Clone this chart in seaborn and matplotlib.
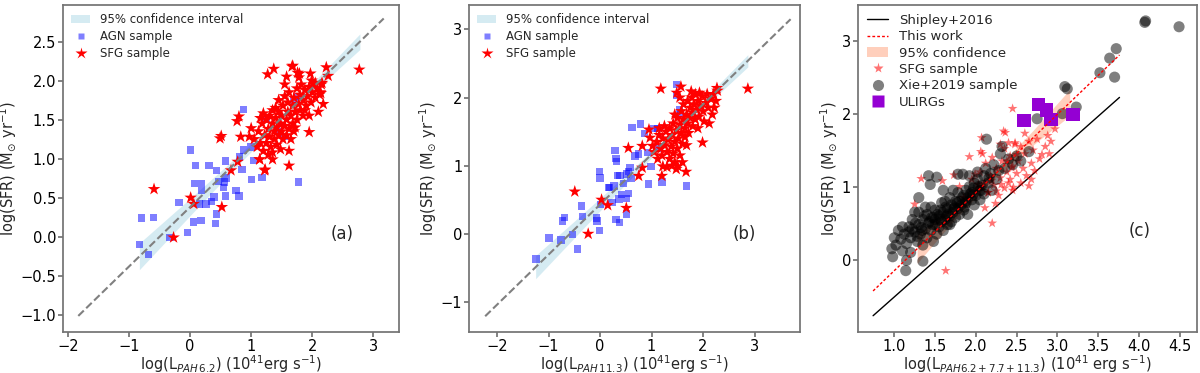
import numpy as np
import pandas as pd
import matplotlib
matplotlib.use("Agg")
import matplotlib.pyplot as plt
import seaborn as sns
from matplotlib.lines import Line2D
from matplotlib.patches import Patch

# ---------------- Panel (a) data ----------------
agn_a_x = [-0.83, -0.79, -0.60, -0.68, -0.33, -0.18, -0.04, 0.01, 0.09, 0.07, 0.19, 0.19, 0.31,
           0.15, 0.26, 0.06, 0.18, 0.35, 0.39, 0.43, 0.47, 0.43, 0.42, 0.58, 0.59, 0.56, 0.55,
           0.58, 0.75, 0.80, 0.81, 0.85, 0.87, 0.87, 1.00, 1.04, 1.01, 1.18, 1.78,
           1.25, 1.45, 1.55, 1.70, 1.75]
agn_a_y = [-0.10, 0.24, 0.25, -0.23, -0.01, 0.44, 0.05, 1.11, 0.91, 0.68, 0.68, 0.59, 0.91,
           0.42, 0.42, 0.19, 0.21, 0.45, 0.51, 0.85, 0.71, 0.29, 0.17, 0.97, 0.75, 0.70, 0.63,
           0.52, 0.59, 0.52, 1.02, 0.86, 1.11, 1.63, 1.15, 0.98, 0.73, 0.76, 0.70,
           1.50, 1.35, 1.28, 1.75, 1.80]
sfg_a_x = [-0.59, -0.27, 0.01, 0.06, 0.52, 0.49, 0.51, 0.67, 0.78, 0.77, 0.80, 0.83, 0.97, 1.00,
           1.14, 1.22, 1.35, 1.62, 1.27, 1.37, 1.67, 1.79, 1.97, 2.23, 2.26, 2.77, 1.95, 2.14,
           2.05, 1.99, 1.68, 1.76, 1.78, 2.13, 2.16, 1.23, 1.14,
           1.05, 1.10, 1.12, 1.15, 1.18, 1.20, 1.22, 1.25, 1.25, 1.28, 1.30, 1.30, 1.32, 1.35,
           1.35, 1.38, 1.38, 1.40, 1.42, 1.42, 1.45, 1.45, 1.48, 1.48, 1.50, 1.50, 1.52, 1.52,
           1.55, 1.55, 1.58, 1.58, 1.60, 1.60, 1.62, 1.62, 1.65, 1.65, 1.68, 1.68, 1.70, 1.70,
           1.72, 1.75, 1.75, 1.78, 1.80, 1.80, 1.82, 1.85, 1.85, 1.88, 1.90, 1.92, 1.95, 1.98,
           2.00, 2.02, 2.05, 2.08, 2.12, 2.15, 2.18, 1.55, 1.58, 1.45, 1.40, 1.35, 1.28, 1.20,
           1.15, 1.62, 1.72, 1.88, 1.95, 2.10]
sfg_a_y = [0.61, -0.01, 0.50, 0.42, 0.38, 1.26, 1.29, 0.85, 0.96, 1.48, 1.54, 1.28, 1.28, 1.39,
           0.99, 0.85, 0.99, 0.91, 2.08, 2.15, 2.18, 2.09, 2.09, 2.17, 2.06, 2.14, 1.34, 1.84,
           1.97, 2.00, 2.19, 2.10, 2.04, 1.85, 1.97, 0.86, 0.99,
           1.25, 1.15, 1.35, 1.20, 1.45, 1.10, 1.30, 1.50, 1.20, 1.38, 1.55, 1.28, 1.15, 1.45,
           1.62, 1.35, 1.25, 1.52, 1.40, 1.18, 1.30, 1.60, 1.45, 1.12, 1.35, 1.55, 1.25, 1.68,
           1.42, 1.80, 1.50, 1.30, 1.72, 1.60, 1.38, 1.85, 1.55, 1.25, 1.68, 1.45, 1.78, 1.35,
           1.60, 1.90, 1.50, 1.70, 1.82, 1.62, 1.95, 1.75, 1.55, 1.88, 1.68, 1.80, 1.92, 1.72,
           1.85, 1.95, 1.78, 1.90, 1.82, 1.95, 1.70, 1.95, 2.05, 1.75, 1.65, 1.08, 1.05, 1.58,
           1.52, 1.10, 1.40, 1.62, 1.55, 1.60]
fit_a_x = [-1.83, 3.17]
fit_a_slope, fit_a_icpt = 0.762, 0.38
ci_a_x = [-0.83, 0.0, 0.8, 1.4, 2.0, 2.78]
ci_a_half = [0.17, 0.11, 0.06, 0.04, 0.06, 0.10]

# ---------------- Panel (b) data ----------------
agn_b_x = [-1.24, -0.99, -0.76, -0.73, -0.69, -0.53, -0.44, -0.36, -0.34, -0.07, -0.06, -0.01,
           -0.01, 0.00, 0.01, 0.17, 0.19, 0.23, 0.27, 0.29, 0.31, 0.32, 0.34, 0.39, 0.31, 0.38,
           0.42, 0.37, 0.45, 0.51, 0.55, 0.51, 0.52, 0.55, 0.58, 0.60, 0.62, 0.68, 0.75, 0.79,
           0.86, 0.92, 0.94, 0.99, 1.20, 1.05, 1.49, 1.48, 1.56, 1.68, 1.54, 1.14, 1.12]
agn_b_y = [-0.37, -0.06, -0.09, 0.19, 0.24, -0.01, -0.22, 0.41, 0.25, 0.23, 0.19, 0.05, 0.91,
           0.82, 0.43, 0.68, 0.68, 0.46, 0.70, 1.22, 1.11, 1.06, 0.86, 0.86, 0.21, 0.17, 0.58,
           0.51, 0.74, 0.88, 0.91, 0.52, 0.29, 0.59, 0.97, 0.81, 1.56, 1.14, 1.17, 1.61, 1.47,
           1.19, 0.73, 0.99, 0.76, 1.55, 2.19, 2.03, 1.75, 0.70, 1.82, 1.26, 1.55]
sfg_b_x = [-0.49, -0.23, 0.03, 0.15, 0.51, 0.55, 0.75, 0.82, 0.82, 0.95, 0.97, 1.02, 1.18, 1.20,
           1.22, 1.51, 1.67, 1.49, 1.57, 1.77, 1.93, 1.99, 2.22, 2.27, 2.87,
           1.05, 1.10, 1.12, 1.15, 1.18, 1.20, 1.22, 1.25, 1.28, 1.30, 1.32, 1.35, 1.35, 1.38,
           1.40, 1.42, 1.42, 1.45, 1.45, 1.48, 1.50, 1.50, 1.52, 1.55, 1.55, 1.58, 1.58, 1.60,
           1.62, 1.62, 1.65, 1.65, 1.68, 1.70, 1.70, 1.72, 1.75, 1.75, 1.78, 1.80, 1.80, 1.82,
           1.85, 1.85, 1.88, 1.90, 1.92, 1.95, 1.98, 2.00, 2.02, 2.05, 2.08, 2.10, 2.15, 2.18,
           2.20, 2.25, 2.28, 1.40, 1.30, 1.48, 1.60, 1.55, 1.45, 1.68, 1.90, 2.12, 1.25, 1.15]
sfg_b_y = [0.62, 0.00, 0.50, 0.42, 0.38, 1.26, 0.85, 0.97, 1.29, 1.53, 1.41, 1.29, 2.13, 0.85,
           0.99, 0.99, 0.91, 2.07, 2.16, 2.09, 2.07, 1.34, 1.85, 2.14, 2.13,
           1.20, 1.35, 1.10, 1.45, 1.25, 1.15, 1.40, 1.30, 1.50, 1.20, 1.38, 1.55, 1.10, 1.28,
           1.45, 1.62, 1.18, 1.35, 1.05, 1.52, 1.25, 1.70, 1.40, 1.60, 1.15, 1.48, 1.80, 1.32,
           1.68, 1.90, 1.55, 1.42, 1.75, 1.62, 1.95, 1.48, 1.85, 1.70, 2.00, 1.58, 1.78, 1.90,
           1.68, 2.05, 1.82, 1.95, 1.72, 1.88, 2.02, 1.80, 1.65, 1.92, 2.05, 1.85, 1.98, 1.75,
           2.05, 1.95, 2.10, 1.00, 0.98, 0.95, 1.05, 2.00, 1.75, 1.30, 1.55, 1.62, 1.58, 1.55]
fit_b_x = [-2.23, 3.70]
fit_b_slope, fit_b_icpt = 0.735, 0.43
ci_b_x = [-1.25, -0.3, 0.6, 1.3, 2.0, 2.87]
ci_b_half = [0.17, 0.11, 0.06, 0.04, 0.06, 0.09]

# ---------------- Panel (c) data ----------------
xie_x = [1.00, 1.02, 1.05, 1.08, 1.10, 1.12, 1.15, 1.18, 1.20, 1.20, 1.22, 1.25,
         1.28, 1.30, 1.30, 1.32, 1.35, 1.35, 1.38, 1.40, 1.40, 1.42, 1.45, 1.45, 1.48, 1.48,
         1.50, 1.50, 1.52, 1.55, 1.55, 1.58, 1.58, 1.60, 1.60, 1.62, 1.65, 1.65, 1.68, 1.68,
         1.70, 1.70, 1.72, 1.75, 1.75, 1.78, 1.78, 1.80, 1.80, 1.82, 1.85, 1.85, 1.88, 1.88,
         1.90, 1.90, 1.92, 1.95, 1.95, 1.98, 1.98, 2.00, 2.02, 2.05, 2.05, 2.08, 2.10, 2.10,
         2.12, 2.15, 2.18, 2.20, 2.22, 2.25, 2.28, 2.30, 2.32, 2.35, 2.40, 2.45, 2.50, 2.55,
         2.65, 2.75, 0.97, 0.98, 1.14, 1.35, 1.15, 1.42, 1.52, 1.44, 1.78, 1.84, 2.13, 1.60,
         1.30, 1.25, 1.10, 1.38, 1.62, 1.72, 1.92, 2.02, 1.50, 1.68,
         1.18, 1.22, 1.26, 1.33, 1.37, 1.43, 1.46, 1.53, 1.57, 1.63, 1.66, 1.73, 1.77, 1.83,
         1.87, 1.93, 1.97, 2.03, 2.07, 1.28, 1.34, 1.47, 1.56, 1.64, 1.74, 1.86, 1.96, 2.16,
         3.06, 3.09, 3.12, 3.23, 3.52, 3.64, 3.70, 3.72, 4.07, 4.08, 4.49]
xie_y = [0.30, 0.20, 0.40, 0.28, 0.12, 0.35, 0.22, 0.45, 0.30, 0.10, 0.55, 0.38,
         0.25, 0.48, 0.65, 0.35, 0.55, 0.20, 0.42, 0.62, 0.30, 0.50, 0.72, 0.40, 0.58, 0.25,
         0.48, 0.68, 0.35, 0.60, 0.45, 0.78, 0.52, 0.40, 0.65, 0.55, 0.70, 0.48, 0.85, 0.60,
         0.52, 0.75, 0.65, 0.80, 0.58, 0.70, 0.92, 0.62, 0.80, 0.75, 0.88, 0.68, 0.95, 0.78,
         0.85, 0.62, 1.00, 0.82, 0.92, 1.05, 0.75, 0.88, 1.10, 0.95, 0.82, 1.02, 1.15, 0.90,
         1.25, 1.05, 1.18, 0.95, 1.30, 1.10, 1.22, 1.45, 1.55, 1.25, 1.38, 1.30, 1.42, 1.35,
         1.48, 1.93, 0.15, 0.04, -0.15, -0.02, -0.01, 1.15, 1.13, 1.03, 1.17, 1.17, 1.65, 0.95,
         0.85, 0.65, 0.45, 0.72, 0.80, 0.95, 1.15, 1.20, 0.55, 0.48,
         0.38, 0.42, 0.50, 0.44, 0.60, 0.52, 0.58, 0.62, 0.68, 0.72, 0.62, 0.70, 0.78, 0.85,
         0.80, 0.90, 0.98, 1.00, 0.95, 0.32, 0.40, 0.48, 0.55, 0.60, 0.72, 0.72, 0.88, 1.12,
         2.00, 2.37, 2.34, 2.09, 2.56, 2.76, 2.50, 2.89, 3.25, 3.27, 3.19]
sfg_c_x = [1.25, 1.33, 1.59, 1.63, 1.73, 1.92, 2.06, 2.07, 2.08, 2.20, 2.45, 2.34, 2.60, 2.65,
           2.68, 2.97, 2.92, 2.81, 2.11, 2.24, 2.36, 2.48, 1.99, 2.03, 2.07, 2.15, 2.19, 2.25,
           2.31, 2.42, 2.46, 2.38, 2.44, 2.50,
           2.05, 2.10, 2.12, 2.15, 2.18, 2.20, 2.22, 2.25, 2.28, 2.30, 2.32, 2.35, 2.35, 2.38,
           2.40, 2.42, 2.45, 2.45, 2.48, 2.50, 2.52, 2.55, 2.55, 2.58, 2.60, 2.62, 2.65, 2.68,
           2.70, 2.72, 2.75, 2.78, 2.85, 2.90, 2.88, 2.40, 2.30, 2.00, 1.95, 1.85, 1.80]
sfg_c_y = [0.76, 1.11, 1.08, -0.15, 1.16, 1.41, 1.48, 1.67, 1.45, 0.50, 2.07, 1.76, 1.73, 1.01,
           1.10, 1.79, 1.62, 1.44, 0.71, 0.77, 1.74, 1.60, 1.17, 1.03, 0.99, 0.92, 1.08, 0.94,
           1.03, 1.10, 0.99, 1.35, 1.26, 1.44,
           1.20, 1.05, 1.32, 0.92, 1.15, 1.40, 1.02, 1.25, 0.88, 1.12, 1.35, 0.98, 1.52, 1.20,
           1.05, 1.42, 1.28, 0.95, 1.58, 1.18, 1.35, 1.05, 1.55, 1.25, 1.45, 1.15, 1.62, 1.32,
           1.50, 1.22, 1.65, 1.38, 1.55, 1.45, 1.70, 1.60, 1.58, 0.95, 1.10, 0.85, 1.00]
ulirg_x = [2.59, 2.77, 2.87, 2.92, 3.19]
ulirg_y = [1.91, 2.13, 2.05, 1.92, 1.99]
line_c_x = [0.74, 3.76]
shipley_slope, shipley_icpt = 0.99, -1.50
this_slope, this_icpt = 1.07, -1.22
ci_c_x = [1.28, 1.7, 2.2, 2.7, 3.15]
ci_c_half = [0.20, 0.10, 0.05, 0.10, 0.18]

# ---------------- Plot ----------------
sns.set_theme(style="ticks")
plt.rcParams["font.family"] = ["DejaVu Sans"]
plt.rcParams["axes.edgecolor"] = "0.45"
plt.rcParams["xtick.color"] = "0.45"
plt.rcParams["ytick.color"] = "0.45"
plt.rcParams["xtick.labelcolor"] = "black"
plt.rcParams["ytick.labelcolor"] = "black"

fig = plt.figure(figsize=(12, 3.73), dpi=100)
ax_a = fig.add_axes([0.0525, 0.11, 0.280, 0.877])
ax_b = fig.add_axes([0.391, 0.11, 0.276, 0.877])
ax_c = fig.add_axes([0.715, 0.11, 0.2825, 0.877])

TICK = 10.5
LAB = 10.5
LEG = 8.5
ylab = r"log(SFR) (M$_{\odot}$ yr$^{-1}$)"

def panel_ab(ax, agn_x, agn_y, sfg_x, sfg_y, fit_x, slope, icpt, ci_x, ci_half, tag):
    cx = np.array(ci_x)
    cy = slope * cx + icpt
    ax.fill_between(cx, cy - np.array(ci_half), cy + np.array(ci_half),
                    color="lightblue", alpha=0.5, lw=0, zorder=1)
    sns.scatterplot(x=agn_x, y=agn_y, ax=ax, marker="s", s=28, color="blue",
                    alpha=0.5, edgecolor="none", zorder=2)
    sns.scatterplot(x=sfg_x, y=sfg_y, ax=ax, marker="*", s=90, color="red",
                    edgecolor="none", zorder=3)
    fx = np.array(fit_x)
    ax.plot(fx, slope * fx + icpt, ls="--", color="gray", lw=1.5, zorder=4)
    ax.text(0.83, 0.30, tag, transform=ax.transAxes, fontsize=12, ha="center", va="center")
    handles = [Patch(facecolor="lightblue", alpha=0.5, edgecolor="none"),
               Line2D([], [], ls="none", marker="s", color="blue", alpha=0.5, ms=5, mec="none"),
               Line2D([], [], ls="none", marker="*", color="red", ms=9, mec="none")]
    ax.legend(handles, ["95% confidence interval", "AGN sample", "SFG sample"],
              loc="upper left", frameon=False, fontsize=LEG, handlelength=1.6,
              borderaxespad=0.3, labelspacing=0.35)
    ax.set_ylabel(ylab, fontsize=LAB, labelpad=1)
    ax.tick_params(labelsize=TICK, length=3.5, pad=1.5)

panel_ab(ax_a, agn_a_x, agn_a_y, sfg_a_x, sfg_a_y, fit_a_x, fit_a_slope, fit_a_icpt,
         ci_a_x, ci_a_half, "(a)")
ax_a.set_xlim(-2.08, 3.42)
ax_a.set_ylim(-1.22, 2.97)
ax_a.set_xticks([-2, -1, 0, 1, 2, 3])
ax_a.set_yticks([-1.0, -0.5, 0.0, 0.5, 1.0, 1.5, 2.0, 2.5])
ax_a.set_xlabel(r"log(L$_{PAH\,6.2}$) (10$^{41}$erg s$^{-1}$)", fontsize=LAB, labelpad=-0.5)

panel_ab(ax_b, agn_b_x, agn_b_y, sfg_b_x, sfg_b_y, fit_b_x, fit_b_slope, fit_b_icpt,
         ci_b_x, ci_b_half, "(b)")
ax_b.set_xlim(-2.54, 3.89)
ax_b.set_ylim(-1.44, 3.36)
ax_b.set_xticks([-2, -1, 0, 1, 2, 3])
ax_b.set_yticks([-1, 0, 1, 2, 3])
ax_b.set_xlabel(r"log(L$_{PAH\,11.3}$) (10$^{41}$erg s$^{-1}$)", fontsize=LAB, labelpad=-0.5)

# Panel c
lx = np.array(line_c_x)
ax_c.plot(lx, shipley_slope * lx + shipley_icpt, color="black", lw=1, zorder=1)
ax_c.plot(lx, this_slope * lx + this_icpt, color="red", ls="--", lw=1,
          dashes=(2, 1.5), zorder=6)
ccx = np.array(ci_c_x)
ccy = this_slope * ccx + this_icpt
ax_c.fill_between(ccx, ccy - np.array(ci_c_half), ccy + np.array(ci_c_half),
                  color="lightsalmon", alpha=0.5, lw=0, zorder=2)
sns.scatterplot(x=sfg_c_x, y=sfg_c_y, ax=ax_c, marker="*", s=55, color="red",
                alpha=0.55, edgecolor="none", zorder=3)
sns.scatterplot(x=xie_x, y=xie_y, ax=ax_c, marker="o", s=64, color="black",
                alpha=0.5, edgecolor="none", zorder=4)
sns.scatterplot(x=ulirg_x, y=ulirg_y, ax=ax_c, marker="s", s=90, color="darkviolet",
                edgecolor="none", zorder=5)
ax_c.text(0.83, 0.31, "(c)", transform=ax_c.transAxes, fontsize=12, ha="center", va="center")
handles_c = [Line2D([], [], color="black", lw=1),
             Line2D([], [], color="red", ls="--", lw=1, dashes=(2, 1.5)),
             Patch(facecolor="lightsalmon", alpha=0.5, edgecolor="none"),
             Line2D([], [], ls="none", marker="*", color="red", alpha=0.55, ms=8, mec="none"),
             Line2D([], [], ls="none", marker="o", color="black", alpha=0.5, ms=8, mec="none"),
             Line2D([], [], ls="none", marker="s", color="darkviolet", ms=8, mec="none")]
ax_c.legend(handles_c, ["Shipley+2016", "This work", "95% confidence", "SFG sample",
                        "Xie+2019 sample", "ULIRGs"],
            loc="upper left", frameon=False, fontsize=9.5, handlelength=1.6,
            borderaxespad=0.3, labelspacing=0.25)
ax_c.set_xlim(0.555, 4.71)
ax_c.set_ylim(-0.99, 3.49)
ax_c.set_xticks([1.0, 1.5, 2.0, 2.5, 3.0, 3.5, 4.0, 4.5])
ax_c.set_yticks([0, 1, 2, 3])
ax_c.set_ylabel(ylab, fontsize=LAB, labelpad=1)
ax_c.set_xlabel(r"log(L$_{PAH6.2+7.7+11.3}$) (10$^{41}$ erg s$^{-1}$)", fontsize=LAB, labelpad=-0.5)
ax_c.tick_params(labelsize=TICK, length=3.5, pad=1.5)

fig.savefig("out.png", dpi=100)
